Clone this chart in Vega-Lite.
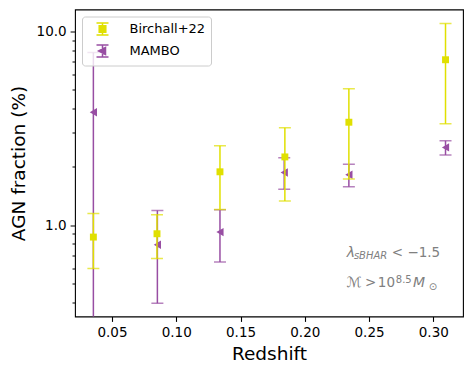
{
  "$schema": "https://vega.github.io/schema/vega-lite/v6.json",
  "width": 388,
  "height": 307,
  "autosize": {"type": "none"},
  "padding": {"left": 75, "top": 9.5, "right": 10, "bottom": 59.5},
  "config": {
    "font": "DejaVu Sans",
    "view": {"stroke": "black", "strokeWidth": 1.1},
    "axis": {"grid": false, "domain": false, "tickColor": "black", "tickWidth": 1.1, "labelColor": "black", "titleColor": "black", "labelFont": "DejaVu Sans", "titleFont": "DejaVu Sans", "titleFontWeight": "normal", "labelFontSize": 13.5, "titleFontSize": 18.5},
    "legend": {
      "orient": "top-left", "offset": 7, "padding": 5.5, "fillColor": "rgba(255,255,255,0.8)", "strokeColor": "#cccccc", "cornerRadius": 3,
      "labelFont": "DejaVu Sans", "labelFontSize": 13, "labelColor": "black", "symbolSize": 144, "symbolStrokeWidth": 1.5,
      "symbolOffset": 8, "labelOffset": 20, "rowPadding": 4, "symbolOpacity": 1
    }
  },
  "datasets": {
    "points": [
      {"series": "MAMBO", "z": 0.0355, "y": 3.83, "lo": 0.1, "hi": 7.79},
      {"series": "MAMBO", "z": 0.0853, "y": 0.791, "lo": 0.394, "hi": 1.19},
      {"series": "MAMBO", "z": 0.134, "y": 0.92, "lo": 0.644, "hi": 1.2},
      {"series": "MAMBO", "z": 0.184, "y": 1.87, "lo": 1.53, "hi": 2.23},
      {"series": "MAMBO", "z": 0.2343, "y": 1.82, "lo": 1.58, "hi": 2.06},
      {"series": "MAMBO", "z": 0.3095, "y": 2.52, "lo": 2.3, "hi": 2.73},
      {"series": "Birchall+22", "z": 0.0355, "y": 0.867, "lo": 0.597, "hi": 1.148},
      {"series": "Birchall+22", "z": 0.085, "y": 0.902, "lo": 0.672, "hi": 1.13},
      {"series": "Birchall+22", "z": 0.134, "y": 1.885, "lo": 1.204, "hi": 2.57},
      {"series": "Birchall+22", "z": 0.1845, "y": 2.25, "lo": 1.33, "hi": 3.18},
      {"series": "Birchall+22", "z": 0.2343, "y": 3.4, "lo": 1.73, "hi": 5.06},
      {"series": "Birchall+22", "z": 0.3095, "y": 7.15, "lo": 3.34, "hi": 11.0}
    ],
    "note_italic": [
      {"z": 0.2327, "y": 0.684, "text": "λ"},
      {"z": 0.2327, "y": 0.48, "text": "ℳ"},
      {"z": 0.2841, "y": 0.48, "text": "M"}
    ],
    "note_normal": [
      {"z": 0.2677, "y": 0.684, "text": "< −1.5"},
      {"z": 0.2468, "y": 0.48, "text": ">"},
      {"z": 0.2568, "y": 0.48, "text": "10"}
    ],
    "note_sub": [
      {"z": 0.2382, "y": 0.67, "text": "sBHAR"}
    ],
    "note_sup": [
      {"z": 0.2708, "y": 0.503, "text": "8.5"},
      {"z": 0.2965, "y": 0.463, "text": "⊙"}
    ]
  },
  "data": {"name": "points"},
  "encoding": {
    "x": {
      "field": "z", "type": "quantitative",
      "scale": {"domain": [0.0212, 0.3231], "nice": false, "zero": false},
      "axis": {"title": "Redshift", "values": [0.05, 0.1, 0.15, 0.2, 0.25, 0.3], "format": ".2f", "tickSize": 4.9, "labelPadding": 4, "titlePadding": 6}
    }
  },
  "layer": [
    {
      "transform": [{"filter": "datum.series === 'MAMBO'"}],
      "mark": {"type": "rule", "color": "#984ea3", "strokeWidth": 1.5, "clip": true},
      "encoding": {
        "y": {"field": "lo", "type": "quantitative", "scale": {"type": "log", "domain": [0.337, 13.0], "nice": false},
          "axis": {"title": "AGN fraction (%)",
            "values": [0.4, 0.5, 0.6, 0.7, 0.8, 0.9, 1, 2, 3, 4, 5, 6, 7, 8, 9, 10],
            "tickCount": 20,
            "labelOverlap": false,
            "labelExpr": "datum.value === 1 ? '1.0' : (datum.value === 10 ? '10.0' : '')",
            "tickSize": {"condition": {"test": "datum.value === 1 || datum.value === 10", "value": 4.9}, "value": 3},
            "tickWidth": 1,
            "labelPadding": 4, "titlePadding": 8}},
        "y2": {"field": "hi"}
      }
    },
    {
      "transform": [{"filter": "datum.series === 'MAMBO'"}],
      "mark": {"type": "tick", "orient": "horizontal", "color": "#984ea3", "size": 12, "thickness": 1.5, "clip": true},
      "encoding": {"y": {"field": "lo", "type": "quantitative"}}
    },
    {
      "transform": [{"filter": "datum.series === 'MAMBO'"}],
      "mark": {"type": "tick", "orient": "horizontal", "color": "#984ea3", "size": 12, "thickness": 1.5, "clip": true},
      "encoding": {"y": {"field": "hi", "type": "quantitative"}}
    },
    {
      "transform": [{"filter": "datum.series === 'MAMBO'"}],
      "mark": {"type": "point", "shape": "triangle-left", "filled": true, "opacity": 1, "color": "#984ea3", "size": 70},
      "encoding": {"y": {"field": "y", "type": "quantitative"}}
    },
    {
      "transform": [{"filter": "datum.series === 'Birchall+22'"}],
      "mark": {"type": "rule", "color": "#e0e000", "strokeWidth": 1.5, "clip": true},
      "encoding": {
        "y": {"field": "lo", "type": "quantitative"},
        "y2": {"field": "hi"}
      }
    },
    {
      "transform": [{"filter": "datum.series === 'Birchall+22'"}],
      "mark": {"type": "tick", "orient": "horizontal", "color": "#e0e000", "size": 12, "thickness": 1.5, "clip": true},
      "encoding": {"y": {"field": "lo", "type": "quantitative"}}
    },
    {
      "transform": [{"filter": "datum.series === 'Birchall+22'"}],
      "mark": {"type": "tick", "orient": "horizontal", "color": "#e0e000", "size": 12, "thickness": 1.5, "clip": true},
      "encoding": {"y": {"field": "hi", "type": "quantitative"}}
    },
    {
      "transform": [{"filter": "datum.series === 'Birchall+22'"}],
      "mark": {"type": "point", "shape": "square", "filled": true, "opacity": 1, "color": "#e0e000", "size": 48},
      "encoding": {"y": {"field": "y", "type": "quantitative"}}
    },
    {
      "mark": {"type": "point", "opacity": 0, "strokeWidth": 1.5},
      "encoding": {
        "y": {"field": "y", "type": "quantitative"},
        "fill": {"field": "series", "type": "nominal", "scale": {"domain": ["Birchall+22", "MAMBO"], "range": ["#e0e000", "#984ea3"]}, "legend": {"title": null}},
        "stroke": {"field": "series", "type": "nominal", "scale": {"domain": ["Birchall+22", "MAMBO"], "range": ["#e0e000", "#984ea3"]}, "legend": {"title": null}},
        "shape": {"field": "series", "type": "nominal", "scale": {"domain": ["Birchall+22", "MAMBO"], "range": [
          "M-1,-1H1M0,-1V1M-1,1H1M-0.55,-0.55H0.55V0.55H-0.55Z",
          "M-1,-1H1M0,-1V1M-1,1H1M-0.65,0L0.5,-0.6V0.6Z"
        ]}, "legend": {"title": null}}
      }
    },
    {
      "data": {"name": "note_italic"},
      "mark": {"type": "text", "align": "left", "baseline": "alphabetic", "fontSize": 14, "fontStyle": "italic", "color": "#808080"},
      "encoding": {"y": {"field": "y", "type": "quantitative"}, "text": {"field": "text"}}
    },
    {
      "data": {"name": "note_normal"},
      "mark": {"type": "text", "align": "left", "baseline": "alphabetic", "fontSize": 13.5, "color": "#808080"},
      "encoding": {"y": {"field": "y", "type": "quantitative"}, "text": {"field": "text"}}
    },
    {
      "data": {"name": "note_sub"},
      "mark": {"type": "text", "align": "left", "baseline": "alphabetic", "fontSize": 10, "fontStyle": "italic", "color": "#808080"},
      "encoding": {"y": {"field": "y", "type": "quantitative"}, "text": {"field": "text"}}
    },
    {
      "data": {"name": "note_sup"},
      "mark": {"type": "text", "align": "left", "baseline": "alphabetic", "fontSize": 10, "color": "#808080"},
      "encoding": {"y": {"field": "y", "type": "quantitative"}, "text": {"field": "text"}}
    }
  ]
}
